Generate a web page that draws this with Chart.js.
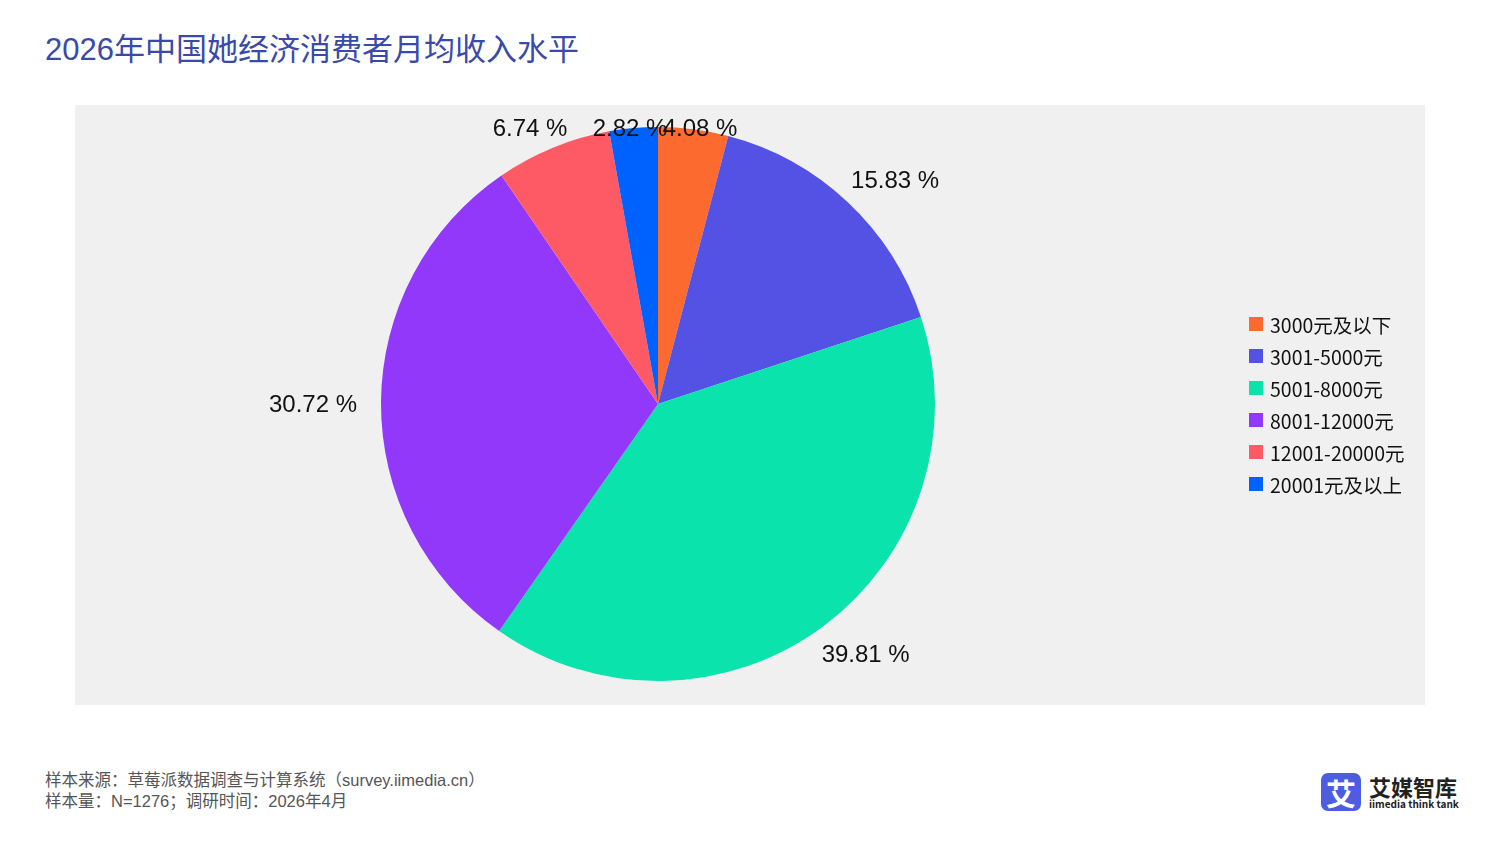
<!DOCTYPE html>
<html><head><meta charset="utf-8">
<script src="https://cdn.jsdelivr.net/npm/chart.js@4"></script>
<style>
body{margin:0;width:1500px;height:844px;background:#fff;position:relative;font-family:"Liberation Sans",Arial,sans-serif;overflow:hidden}
#title{position:absolute;left:45px;top:24px;font-size:31px;color:#3a4aa8;font-family:"Liberation Sans","Noto Sans CJK SC",sans-serif}
#box{position:absolute;left:75px;top:105px;width:1350px;height:600px;background:#f0f0f0}
#legend{position:absolute;left:1249px;top:308px;font-family:"Noto Sans CJK SC","Noto Sans",sans-serif;font-size:19.5px;color:#111}
#legend div{height:32px;display:flex;align-items:center}
#legend span{display:inline-block;width:14px;height:14px;margin-right:7px}
#foot{position:absolute;left:45px;top:770px;font-size:16.5px;color:#555;line-height:21px;font-family:"Liberation Sans","Noto Sans CJK SC",sans-serif}
#logo{position:absolute;left:1321px;top:773px;display:flex;align-items:center}
#logo .ic{width:40px;height:38px;background:#4e5de0;border-radius:7px;color:#fff;font:bold 30px "Noto Sans CJK SC";display:flex;align-items:center;justify-content:center}
#logo .t{margin-left:8px;font-family:"Noto Sans CJK SC";color:#222}
</style></head><body>
<div id="title">2026年中国她经济消费者月均收入水平</div>
<div id="box"><canvas id="c" width="1350" height="600"></canvas></div>
<div id="legend"></div>
<div id="foot">样本来源：草莓派数据调查与计算系统（survey.iimedia.cn）<br>样本量：N=1276；调研时间：2026年4月</div>
<div id="logo"><div class="ic">艾</div><div class="t"><div style="font-size:22px;font-weight:bold;line-height:24px">艾媒智库</div><div style="font-size:10px;font-weight:bold;line-height:12px">iimedia think tank</div></div></div>
<script>
const categories=["3000元及以下","3001-5000元","5001-8000元","8001-12000元","12001-20000元","20001元及以上"];
const values=[4.08,15.83,39.81,30.72,6.74,2.82];
const colors=["#fd6a2f","#5352e4","#0ae3ab","#9238fb","#fd5a66","#0062fe"];
const lg=document.getElementById('legend');
categories.forEach((c,i)=>{lg.innerHTML+=`<div><span style="background:${colors[i]}"></span>${c}</div>`;});
const adj=[[0,3],[14,15],[13,-10],[-19,3],[0,3],[-12,3]];
const labelPlugin={id:'lbl',afterDatasetsDraw(ch){
 const ctx=ch.ctx,meta=ch.getDatasetMeta(0);
 ctx.save();ctx.font='24px "Liberation Sans",Arial';ctx.fillStyle='#111';ctx.textAlign='center';ctx.textBaseline='middle';
 meta.data.forEach((a,i)=>{const m=(a.startAngle+a.endAngle)/2;const r=a.outerRadius+49;
  let x=a.x+Math.cos(m)*r,y=a.y+Math.sin(m)*r;
  if(i===0){x=a.x+42;y=a.y-278;} if(i===5){x=a.x-16;y=a.y-278;} if(i===4){x=a.x-128;y=a.y-278;}
  ctx.fillText(values[i].toFixed(2)+' %',x+adj[i][0],y+adj[i][1]);});
 ctx.restore();}};
new Chart(document.getElementById('c'),{type:'pie',
 data:{labels:categories,datasets:[{data:values,backgroundColor:colors,borderWidth:0}]},
 options:{responsive:false,animation:false,layout:{padding:{left:306,right:490,top:22,bottom:24}},
  plugins:{legend:{display:false},tooltip:{enabled:false}}},
 plugins:[labelPlugin]});
</script></body></html>
